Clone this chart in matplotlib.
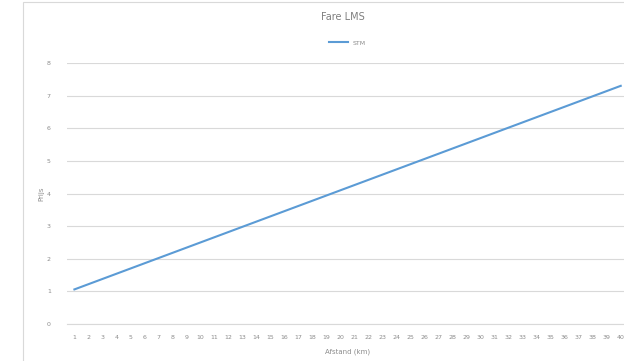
import matplotlib
matplotlib.use("Agg")
import matplotlib.pyplot as plt
from matplotlib.patches import Rectangle

distance = list(range(1, 41))
fare = [1.06, 1.22, 1.38, 1.54, 1.70, 1.86, 2.02, 2.18, 2.34, 2.50,
        2.66, 2.82, 2.98, 3.14, 3.30, 3.46, 3.62, 3.78, 3.94, 4.10,
        4.26, 4.42, 4.58, 4.74, 4.90, 5.06, 5.22, 5.38, 5.54, 5.70,
        5.86, 6.02, 6.18, 6.34, 6.50, 6.66, 6.82, 6.98, 7.14, 7.30]
series_name = "STM"
title = "Fare LMS"
xlabel = "Afstand (km)"
ylabel = "Prijs"

grey = "#8c8c8c"
fig = plt.figure(figsize=(6.24, 3.61), dpi=100)
fig.patches.append(Rectangle((23 / 624, -0.1), 1.1, 1.095, transform=fig.transFigure,
                             fill=False, edgecolor="#d9d9d9", linewidth=0.8))

ax = fig.add_axes([0.108, 1 - 324 / 361, 0.898, (324 - 63) / 361])
ax.plot(range(len(distance)), fare, color="#5b9bd5", linewidth=1.5, label=series_name)
ax.set_xlim(-0.5, len(distance) - 0.5)
ax.set_ylim(0, 8)
ax.set_xticks(range(len(distance)))
ax.set_xticklabels([str(d) for d in distance], fontsize=4.5, color=grey)
ax.set_yticks(range(0, 9))
ax.tick_params(axis="y", labelsize=4.5, colors=grey, length=0, pad=12)
ax.tick_params(axis="x", length=0, pad=8)
ax.grid(axis="y", color="#d9d9d9", linewidth=0.8)
ax.set_axisbelow(True)
for s in ["top", "right", "left"]:
    ax.spines[s].set_visible(False)
ax.spines["bottom"].set_color("#d9d9d9")

ax.set_xlabel(xlabel, fontsize=5, color=grey, labelpad=6)
ax.set_ylabel(ylabel, fontsize=5, color=grey, labelpad=2)
fig.text(0.5 + 0.106 / 2 - 0.003, 1 - 17 / 361, title, ha="center", va="center", fontsize=7, color="#7f7f7f")
ax.legend(loc="lower center", bbox_to_anchor=(0.5, 1.045), frameon=False, fontsize=4.5,
          labelcolor=grey, handlelength=3)

fig.savefig("out.png", dpi=100)
